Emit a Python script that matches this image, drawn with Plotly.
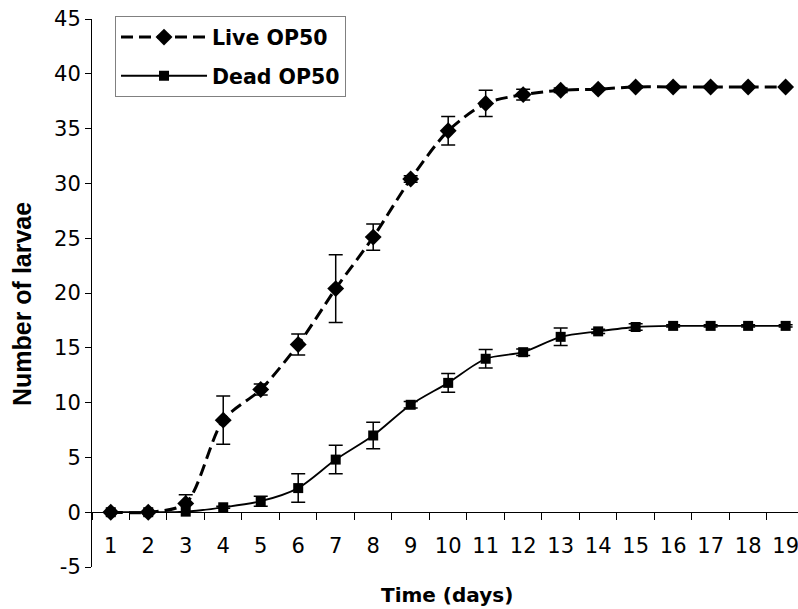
import plotly.graph_objects as go

days = [str(d) for d in range(1, 20)]
live = [0, 0, 0.8, 8.4, 11.2, 15.3, 20.4, 25.1, 30.4, 34.8, 37.3, 38.1, 38.5, 38.6, 38.8, 38.8, 38.8, 38.8, 38.8]
live_err = [0, 0, 0.8, 2.2, 0.5, 0.95, 3.1, 1.2, 0.3, 1.3, 1.2, 0.5, 0.2, 0.1, 0.1, 0, 0, 0, 0]
dead = [0, 0, 0.05, 0.45, 1.0, 2.2, 4.8, 7.0, 9.8, 11.8, 14.0, 14.6, 16.0, 16.5, 16.9, 17.0, 17.0, 17.0, 17.0]
dead_err = [0, 0, 0, 0.1, 0.45, 1.3, 1.3, 1.2, 0.3, 0.85, 0.85, 0.3, 0.8, 0.2, 0.3, 0.1, 0.1, 0.1, 0.1]
y_ticks = list(range(-5, 50, 5))
y_ticktext = [str(v) for v in y_ticks]

FONT = "DejaVu Sans"

fig = go.Figure()
fig.add_trace(go.Scatter(
    x=days, y=live, name="Live OP50", mode="lines+markers", legendgroup="a",
    line=dict(color="black", width=3, dash="12px,6px", shape="spline", smoothing=0.8),
    marker=dict(symbol="diamond", size=13, color="black"),
    error_y=dict(type="data", array=live_err, visible=True, color="black", thickness=1.5, width=7),
))
fig.add_trace(go.Scatter(
    x=days, y=dead, name="Dead OP50", mode="lines+markers", legendgroup="b",
    line=dict(color="black", width=1.8, shape="spline", smoothing=0.8),
    marker=dict(symbol="square", size=10, color="black"),
    error_y=dict(type="data", array=dead_err, visible=True, color="black", thickness=1.5, width=7),
))

fig.update_layout(
    width=798, height=609,
    margin=dict(l=92, r=0, t=19, b=42),
    paper_bgcolor="white", plot_bgcolor="white",
    font=dict(family=FONT, size=20, color="black"),
    showlegend=True,
    legend=dict(
        x=0.0326, y=1.005, xanchor="left", yanchor="top",
        bordercolor="#808080", borderwidth=1, bgcolor="white",
        font=dict(family=FONT, size=20.5, color="black", weight="bold"),
        itemwidth=86, tracegroupgap=9, traceorder="grouped",
    ),
    xaxis=dict(
        type="category", range=[-0.5, 18.33],
        anchor="free", position=0.1,
        showline=True, linecolor="black", linewidth=1,
        ticks="outside", ticklen=7, tickcolor="black", tickson="boundaries",
        ticklabelstandoff=15,
        showgrid=False, zeroline=False,
        tickfont=dict(family=FONT, size=21, color="black"),
    ),
    yaxis=dict(
        range=[-5, 45], tickvals=y_ticks, ticktext=y_ticktext,
        showline=True, linecolor="black", linewidth=1,
        ticks="outside", ticklen=6, tickcolor="black",
        showgrid=False, zeroline=False,
        tickfont=dict(family=FONT, size=21, color="black"),
    ),
    annotations=[
        dict(text="Number of larvae", x=-0.099, y=0.48, xref="paper", yref="paper",
             xanchor="center", yanchor="middle", textangle=-90, showarrow=False,
             font=dict(family="Liberation Sans", size=25, weight="bold", color="black")),
        dict(text="Time (days)", x=0.5035, y=-0.051, xref="paper", yref="paper",
             xanchor="center", yanchor="middle", showarrow=False,
             font=dict(family=FONT, size=20, weight="bold", color="black")),
    ],
)

fig.write_html("out.html")
